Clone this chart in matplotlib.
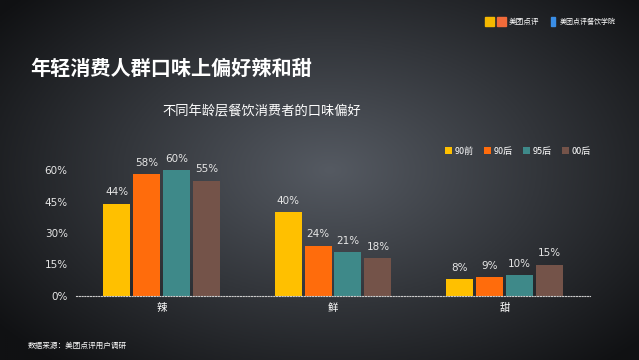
import numpy as np
import matplotlib.pyplot as plt
from matplotlib.patches import Rectangle

plt.rcParams['font.family'] = ['Noto Sans CJK SC', 'DejaVu Sans']

# 数据
口味 = ['辣', '鲜', '甜']
年龄层 = ['90前', '90后', '95后', '00后']
v90前 = [44, 40, 8]
v90后 = [58, 24, 9]
v95后 = [60, 21, 10]
v00后 = [55, 18, 15]
颜色 = ['#FFC000', '#FF6C0C', '#3E8989', '#745349']
刻度 = [0, 15, 30, 45, 60]

fig = plt.figure(figsize=(6.39, 3.6), dpi=100)

# 背景渐变
bg = fig.add_axes([0, 0, 1, 1])
xx, yy = np.meshgrid(np.linspace(0, 639, 320), np.linspace(0, 360, 180))
r = np.sqrt(((xx - 330) / 420) ** 2 + ((yy - 170) / 260) ** 2)
r = np.clip(r, 0, 1)
c0 = np.array([0x55, 0x5a, 0x62]) / 255
c1 = np.array([0x10, 0x11, 0x13]) / 255
img = c0[None, None, :] * (1 - r[..., None]) + c1[None, None, :] * r[..., None]
bg.imshow(img, extent=[0, 639, 360, 0], aspect='auto')
bg.set_xlim(0, 639)
bg.set_ylim(360, 0)
bg.axis('off')

# 标题
bg.text(30, 68, '年轻消费人群口味上偏好辣和甜', color='white', fontsize=14.5,
        fontweight='bold', va='center', ha='left')
bg.text(262, 112, '不同年龄层餐饮消费者的口味偏好', color='white', fontsize=9.5,
        va='center', ha='center')
bg.text(28, 346, '数据来源：美团点评用户调研', color='white', fontsize=5.5,
        va='center', ha='left')

# logo
bg.add_patch(Rectangle((485, 17), 9, 9, color='#F5B800'))
bg.add_patch(Rectangle((497, 17), 9, 9, color='#F26B3A'))
bg.text(509, 21.5, '美团点评', color='white', fontsize=5.5, va='center', ha='left')
bg.add_patch(Rectangle((551, 17), 4, 9, color='#3A8EE6'))
bg.text(560, 21.5, '美团点评餐饮学院', color='white', fontsize=5, va='center', ha='left')

# 柱状图
ax = fig.add_axes([76 / 639, 64 / 360, 514 / 639, 136.5 / 360])
ax.set_facecolor('none')
x = np.arange(len(口味))
w = 27 / 171.5
step = 30 / 171.5
for i, (vals, nome) in enumerate(zip([v90前, v90后, v95后, v00后], 年龄层)):
    pos = x + (i - 1.5) * step
    bars = ax.bar(pos, vals, w, color=颜色[i], label=nome, zorder=2)
    for b, v in zip(bars, vals):
        ax.text(b.get_x() + b.get_width() / 2, v + 3, f'{v}%', ha='center',
                va='bottom', color='#e6e6e6', fontsize=7.5, family='DejaVu Sans')

ax.set_xlim(-0.5, 2.5)
ax.set_ylim(0, 65)
ax.set_yticks(刻度)
ax.set_yticklabels([f'{t}%' for t in 刻度], color='#e6e6e6', fontsize=7.5,
                   family='DejaVu Sans')
ax.set_xticks(x)
ax.set_xticklabels(口味, color='white', fontsize=7.5)
ax.tick_params(length=0, axis='y', pad=6)
ax.tick_params(length=0, axis='x', pad=5)
for s in ['top', 'right', 'left']:
    ax.spines[s].set_visible(False)
ax.spines['bottom'].set_color('#cccccc')
ax.spines['bottom'].set_linestyle((0, (1, 1.5)))
ax.spines['bottom'].set_linewidth(0.8)

fig.legend(loc='center', bbox_to_anchor=(518 / 639, 1 - 151 / 360), ncol=4,
           frameon=False, handlelength=0.7, handleheight=0.7, handletextpad=0.3,
           columnspacing=1.2, fontsize=6.5, labelcolor='white')

fig.savefig('out.png', dpi=100)
